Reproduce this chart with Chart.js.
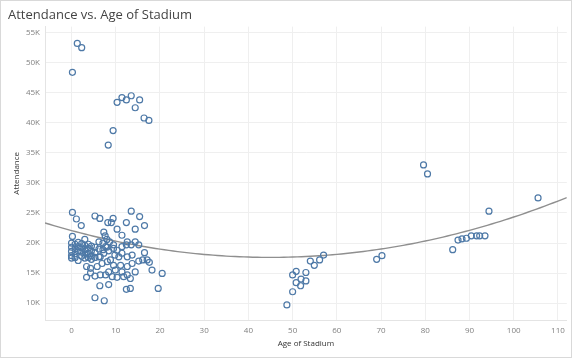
<!DOCTYPE html>
<html><head><meta charset="utf-8">
<script src="https://cdn.jsdelivr.net/npm/chart.js@4.4.1/dist/chart.umd.min.js"></script>
<style>
html,body{margin:0;padding:0;background:#fff}
#wrap{position:relative;width:572px;height:358px}
#frame{position:absolute;left:0;top:0;width:570px;height:356px;border:1px solid #d9d9d9;pointer-events:none}
canvas{display:block}
</style>
</head><body><div id="wrap"><canvas id="c" width="572" height="358"></canvas><div id="frame"></div></div>
<script>
// Age of stadium (years)
const ages = [
  1.3,2.3,0.2,10.3,11.4,12.4,13.5,15.4,14.4,16.4,17.5,9.4,8.3,
  79.6,80.5,94.4,105.5,86.2,87.4,88.3,89.3,90.4,91.6,92.3,93.5,69.0,70.2,
  48.7,50.0,50.0,50.8,50.8,51.9,51.8,53.0,53.0,54.0,54.9,56.1,57.0,
  0.2,1.1,2.2,5.3,6.4,9.4,9.0,8.2,13.5,15.4,12.4,16.5,14.4,10.3,11.4,7.3,7.6,0.2,
  0,0,0,0,0, 0.8,0.8,0.8,0.8, 1.5,1.5,1.5,1.5, 2.3,2.3,2.3,2.3, 3.0,3.0,3.0,3.0,3.0,
  3.8,3.8,3.8,3.8, 4.5,4.5,4.5,4.5, 5.3,5.3,5.3, 6.2,6.2,6.2, 7.1,7.1, 8.0,8.0,
  8.4,8.6,10.3,11.4,11.4,12.4,13.5,15.2,16.5,14.4,12.6,9.8,10.7,12.6,13.7,9.5,7.7,7.3,6.5,9.5,
  3.4,4.3,5.8,6.9,8.1,9.5,11.1,12.6,13.7,15.2,16.1,17.1,17.6,18.2,20.5,14.4,8.8,
  4.3,5.3,3.4,6.5,7.7,9.2,10.3,11.8,12.6,13.3,8.4,9.9,11.4,
  6.4,8.4,12.4,13.3,19.6,5.3,7.4
];
// Attendance (people per game)
const attendance = [
  53200,52500,48400,43400,44200,43800,44500,43800,42500,40800,40400,38700,36300,
  33000,31500,25300,27500,18900,20500,20700,20800,21200,21200,21200,21200,17300,17900,
  9700,11900,14700,15300,13400,14000,12900,15100,13700,17000,16300,17200,18000,
  25100,24000,22900,24500,24100,24100,23400,23400,25300,24400,23400,22900,22300,22300,21300,21800,21200,21100,
  20000,19300,18600,17900,17500, 19800,19000,18200,17600, 20100,19400,18700,17100, 19900,19200,18500,17800, 20600,19600,18900,18100,17500,
  19800,19100,18300,17600, 19500,18700,17900,17300, 19300,18400,17600, 20200,19000,17700, 20000,18900, 20600,19300,
  18700,20200,18800,18300,19400,19700,19700,19700,18400,20200,20200,18000,17700,17700,18000,19700,19400,18300,17700,19100,
  16100,15800,16100,16600,16900,16300,16300,16100,16600,17000,17200,17200,16800,15500,14950,15200,17200,
  15050,14500,14300,14700,14700,14400,14300,14400,14700,14100,15200,15500,15200,
  12900,13100,12300,12450,12450,10900,10400
];
const xTickValues = [0,10,20,30,40,50,60,70,80,90,100,110];
const yTickValues = [10000,15000,20000,25000,30000,35000,40000,45000,50000,55000];

// Polynomial (degree 2) least-squares trend line computed from the data
function quadFit(xs, ys) {
  const S = [0,0,0,0,0], T = [0,0,0];
  for (let i = 0; i < xs.length; i++) {
    let p = 1;
    for (let k = 0; k < 5; k++) { S[k] += p; if (k < 3) T[k] += ys[i] * p; p *= xs[i]; }
  }
  const M = [[S[0],S[1],S[2],T[0]],[S[1],S[2],S[3],T[1]],[S[2],S[3],S[4],T[2]]];
  for (let c = 0; c < 3; c++) {
    for (let r = c + 1; r < 3; r++) {
      const f = M[r][c] / M[c][c];
      for (let k = c; k < 4; k++) M[r][k] -= f * M[c][k];
    }
  }
  const b = [0,0,0];
  for (let r = 2; r >= 0; r--) {
    let s = M[r][3];
    for (let k = r + 1; k < 3; k++) s -= M[r][k] * b[k];
    b[r] = s / M[r][r];
  }
  return b;
}
const coef = quadFit(ages, attendance);
const xMin = -6, xMax = 112;
const trend = [];
for (let x = xMin; x <= xMax; x += 1) trend.push({x: x, y: coef[0] + coef[1]*x + coef[2]*x*x});

const pts = ages.map((a, i) => ({x: a, y: attendance[i]}));
const FONT = "'Open Sans', 'DejaVu Sans', sans-serif";

new Chart(document.getElementById('c'), {
  type: 'scatter',
  data: {
    datasets: [
      {
        type: 'line', data: trend, borderColor: '#8f8f8f', borderWidth: 1.4,
        pointRadius: 0, fill: false, tension: 0, order: 2
      },
      {
        data: pts, pointRadius: 3, pointBorderWidth: 1.2,
        pointBorderColor: '#4e79a7', pointBackgroundColor: 'rgba(255,255,255,0)',
        order: 1
      }
    ]
  },
  options: {
    responsive: false, animation: false, devicePixelRatio: 1,
    layout: {padding: {left: 8, right: 5, top: 1, bottom: 8}},
    plugins: {
      legend: {display: false}, tooltip: {enabled: false},
      title: {
        display: true, text: 'Attendance vs. Age of Stadium', align: 'start',
        color: '#444', font: {family: FONT, size: 13, weight: '400'},
        padding: {top: 6, bottom: 4}
      }
    },
    scales: {
      x: {
        type: 'linear', min: xMin, max: xMax,
        afterBuildTicks: ax => { ax.ticks = xTickValues.map(v => ({value: v})); },
        afterFit: ax => { ax.height = 30; },
        grid: {color: '#efefef', drawTicks: false},
        border: {color: '#e4e4e4'},
        ticks: {color: '#808080', font: {family: FONT, size: 8}, padding: 6, maxRotation: 0},
        title: {display: true, text: 'Age of Stadium', color: '#333', font: {family: FONT, size: 8}, padding: {top: 0, bottom: 1}}
      },
      y: {
        min: 7200, max: 56000,
        afterBuildTicks: ax => { ax.ticks = yTickValues.map(v => ({value: v})); },
        afterFit: ax => { ax.width = 37; },
        grid: {color: '#efefef', drawTicks: false},
        border: {color: '#e4e4e4'},
        ticks: {color: '#808080', font: {family: FONT, size: 8}, padding: 5, callback: v => (v/1000) + 'K'},
        title: {display: true, text: 'Attendance', color: '#333', font: {family: FONT, size: 8}, padding: {top: 4, bottom: 0}}
      }
    }
  }
});
</script>
</body></html>
